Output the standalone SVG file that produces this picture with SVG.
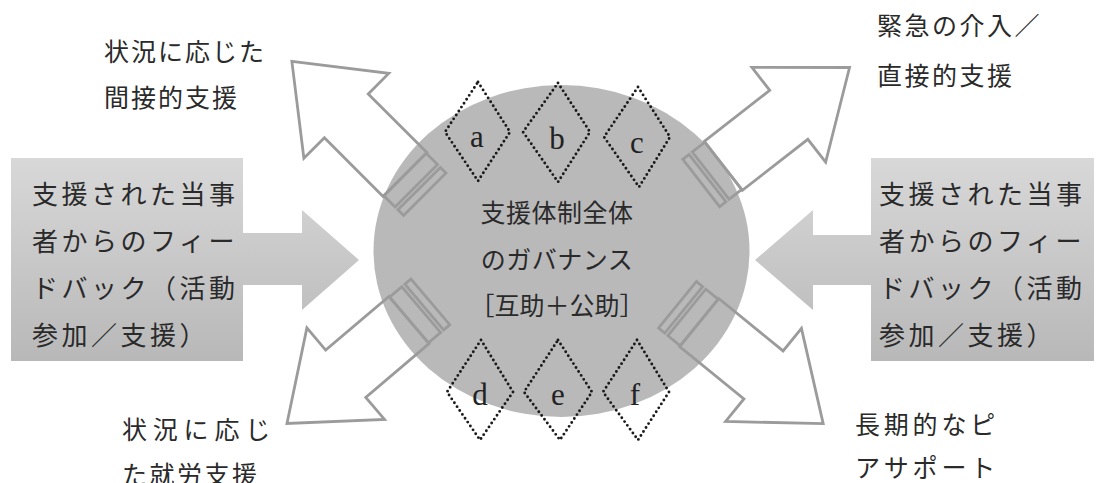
<svg xmlns="http://www.w3.org/2000/svg" xmlns:xlink="http://www.w3.org/1999/xlink" width="1096" height="483" viewBox="0 0 1096 483">
<style>
.jp{font-family:"Noto Sans CJK JP","Noto Sans CJK SC",sans-serif;fill:#2a2a2a;font-size:25px}
.fb{font-size:26px;letter-spacing:3.5px}
.ctr{text-anchor:middle}
.let{font-family:"Liberation Serif",serif;font-size:31px;fill:#222;text-anchor:middle}
.ho{fill:none;stroke:#9b9b9c;stroke-width:2.8;stroke-linejoin:miter}
.dia{fill:none;stroke:#1a1a1a;stroke-width:2.9;stroke-dasharray:0 4.7;stroke-linecap:round}
</style>
<defs>
<linearGradient id="fbg" gradientUnits="userSpaceOnUse" x1="0" y1="158" x2="0" y2="361">
<stop offset="0" stop-color="#d8d8d9"/>
<stop offset="1" stop-color="#b8b8b9"/>
</linearGradient>
<g id="harrow">
<polygon class="ho" points="0,-31 83,-31 83,-60 160,0 83,60 83,31 0,31"/>
<rect class="ho" x="-16" y="-30" width="16" height="60"/>
<rect class="ho" x="-28" y="-30" width="8" height="60"/>
</g>
</defs>

<g id="feedback-left">
<path d="M11,158 H243 V233 H302 V210 L359,260 L302,310 V285 H243 V361 H11 Z" fill="url(#fbg)"/>
<text class="jp fb" x="32" y="204">支援された当事</text>
<text class="jp fb" x="32" y="251">者からのフィー</text>
<text class="jp fb" x="32" y="298">ドバック（活動</text>
<text class="jp fb" x="32" y="345">参加／支援）</text>
</g>

<g id="feedback-right">
<path d="M1094,158 H871 V235 H813 V210 L755,260 L813,310 V285 H871 V361 H1094 Z" fill="url(#fbg)"/>
<text class="jp fb" x="879" y="204">支援された当事</text>
<text class="jp fb" x="879" y="251">者からのフィー</text>
<text class="jp fb" x="879" y="298">ドバック（活動</text>
<text class="jp fb" x="879" y="345">参加／支援）</text>
</g>

<g id="governance">
<ellipse cx="561.5" cy="251" rx="188" ry="166" fill="#b9b9ba"/>
<text class="jp ctr" x="557" y="222" style="letter-spacing:0.5px">支援体制全体</text>
<text class="jp ctr" x="557" y="269" style="letter-spacing:0.5px">のガバナンス</text>
<text class="jp ctr" x="557" y="315">［互助＋公助］</text>
</g>

<g id="connectors">
<use xlink:href="#harrow" transform="translate(405,174.5) rotate(-135)"/>
<use xlink:href="#harrow" transform="translate(723.3,165.8) rotate(-37.9)"/>
<use xlink:href="#harrow" transform="translate(409,320) rotate(139.7)"/>
<use xlink:href="#harrow" transform="translate(699.2,322.5) rotate(39.2)"/>
</g>

<g id="diamond-a"><polygon class="dia" points="478,82 510,132 478,181 445,132"/><text class="let" x="477" y="147">a</text></g>
<g id="diamond-b"><polygon class="dia" points="558,83 590,132 558,182 523,132"/><text class="let" x="557" y="149">b</text></g>
<g id="diamond-c"><polygon class="dia" points="638,87 670,137 639,187 604,137"/><text class="let" x="637" y="153">c</text></g>
<g id="diamond-d"><polygon class="dia" points="481,340 513,392 480,440 447,392"/><text class="let" x="480" y="405">d</text></g>
<g id="diamond-e"><polygon class="dia" points="558,340 592,392 560,440 524,392"/><text class="let" x="558" y="405">e</text></g>
<g id="diamond-f"><polygon class="dia" points="637,340 669,392 638,440 603,392"/><text class="let" x="635" y="405">f</text></g>

<g id="label-tl">
<text class="jp" x="104" y="61" style="letter-spacing:2px">状況に応じた</text>
<text class="jp" x="104" y="107" style="letter-spacing:2px">間接的支援</text>
</g>
<g id="label-tr">
<text class="jp" x="877" y="35" style="letter-spacing:2.5px">緊急の介入／</text>
<text class="jp" x="877" y="85" style="letter-spacing:2.5px">直接的支援</text>
</g>
<g id="label-bl">
<text class="jp" x="122" y="439" style="letter-spacing:5.8px">状況に応じ</text>
<text class="jp" x="122" y="484" style="letter-spacing:2.5px">た就労支援</text>
</g>
<g id="label-br">
<text class="jp" x="855" y="434" style="letter-spacing:3.8px">長期的なピ</text>
<text class="jp" x="855" y="477" style="letter-spacing:3.8px">アサポート</text>
</g>
</svg>
